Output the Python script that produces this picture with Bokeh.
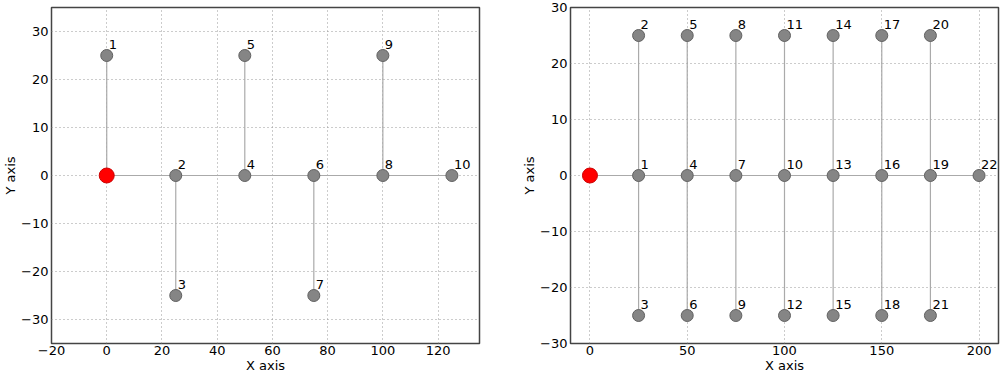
from bokeh.plotting import figure
from bokeh.layouts import row
from bokeh.models import ColumnDataSource, Range1d, FixedTicker
from bokeh.core.properties import value
from bokeh.embed import file_html
from bokeh.resources import INLINE

# ---- Left graph ----
left_x = [0, 25, 25, 50, 50, 75, 75, 100, 100, 125]
left_y = [25, 0, -25, 0, 25, 0, -25, 0, 25, 0]
left_labels = ["1", "2", "3", "4", "5", "6", "7", "8", "9", "10"]
left_edges = [(0, 0, 0, 25), (0, 0, 125, 0), (25, 0, 25, -25), (50, 0, 50, 25),
              (75, 0, 75, -25), (100, 0, 100, 25)]
left_xticks = [-20, 0, 20, 40, 60, 80, 100, 120]
left_yticks = [-30, -20, -10, 0, 10, 20, 30]

# ---- Right graph ----
right_x = [25, 25, 25, 50, 50, 50, 75, 75, 75, 100, 100, 100, 125, 125, 125,
           150, 150, 150, 175, 175, 175, 200]
right_y = [0, 25, -25, 0, 25, -25, 0, 25, -25, 0, 25, -25, 0, 25, -25,
           0, 25, -25, 0, 25, -25, 0]
right_labels = [str(i) for i in range(1, 23)]
right_edges = [(0, 0, 200, 0), (25, 25, 25, -25), (50, 25, 50, -25), (75, 25, 75, -25),
               (100, 25, 100, -25), (125, 25, 125, -25), (150, 25, 150, -25),
               (175, 25, 175, -25)]
right_xticks = [0, 50, 100, 150, 200]
right_yticks = [-30, -20, -10, 0, 10, 20, 30]

origin_x = [0]
origin_y = [0]

FONT = "DejaVu Sans"


def make_fig(xs, ys, labels, edges, xr, yr, xticks, yticks, frame_w, left_b, right_b):
    p = figure(frame_width=frame_w, frame_height=336, output_backend="svg",
               toolbar_location=None, x_range=Range1d(*xr), y_range=Range1d(*yr),
               min_border_left=left_b, min_border_right=right_b,
               min_border_top=7, min_border_bottom=0)
    p.background_fill_color = "white"
    p.border_fill_color = "white"
    p.outline_line_color = "#444444"
    p.outline_line_width = 1.5

    for ax in (p.xaxis, p.yaxis):
        ax.axis_line_color = None
        ax.major_tick_line_color = None
        ax.minor_tick_line_color = None
        ax.major_label_text_font = FONT
        ax.major_label_text_font_size = "13px"
        ax.major_label_text_color = "black"
        ax.axis_label_text_font = FONT
        ax.axis_label_text_font_size = "13px"
        ax.axis_label_text_font_style = "normal"
        ax.axis_label_text_color = "black"
        ax.major_tick_out = 0
        ax.major_tick_in = 0
    p.xaxis.axis_label = "X axis"
    p.yaxis.axis_label = "Y axis"
    p.xaxis.major_label_standoff = 2
    p.xaxis.axis_label_standoff = 0
    p.yaxis.major_label_standoff = 3
    p.yaxis.axis_label_standoff = 0
    p.xaxis.ticker = FixedTicker(ticks=xticks)
    p.yaxis.ticker = FixedTicker(ticks=yticks)
    p.xaxis.major_label_overrides = {t: str(t).replace("-", "\u2212") for t in xticks}
    p.yaxis.major_label_overrides = {t: str(t).replace("-", "\u2212") for t in yticks}

    for g in (p.xgrid, p.ygrid):
        g.grid_line_color = "#999999"
        g.grid_line_dash = "1 3"
        g.grid_line_width = 1

    es = ColumnDataSource(dict(x0=[e[0] for e in edges], y0=[e[1] for e in edges],
                               x1=[e[2] for e in edges], y1=[e[3] for e in edges]))
    p.segment("x0", "y0", "x1", "y1", source=es, line_color="#aaaaaa", line_width=1.2)

    ns = ColumnDataSource(dict(x=xs, y=ys, t=labels))
    p.scatter("x", "y", source=ns, size=12, fill_color="#858585",
              line_color="#606060", line_width=1)
    p.text("x", "y", text="t", source=ns, x_offset=2, y_offset=-11,
           text_font=value(FONT), text_font_size="13px", text_color="black",
           text_align="left", text_baseline="alphabetic")

    p.scatter(origin_x, origin_y, size=15, fill_color="red", line_color="#cc0000",
              line_width=1)
    return p


p1 = make_fig(left_x, left_y, left_labels, left_edges, (-20, 135), (-35, 35),
              left_xticks, left_yticks, 428, 43, 40)
p2 = make_fig(right_x, right_y, right_labels, right_edges, (-10, 210), (-30, 30),
              right_xticks, right_yticks, 428, 43, 2)

layout = row(p1, p2)
open("out.html", "w").write(file_html(layout, INLINE))
